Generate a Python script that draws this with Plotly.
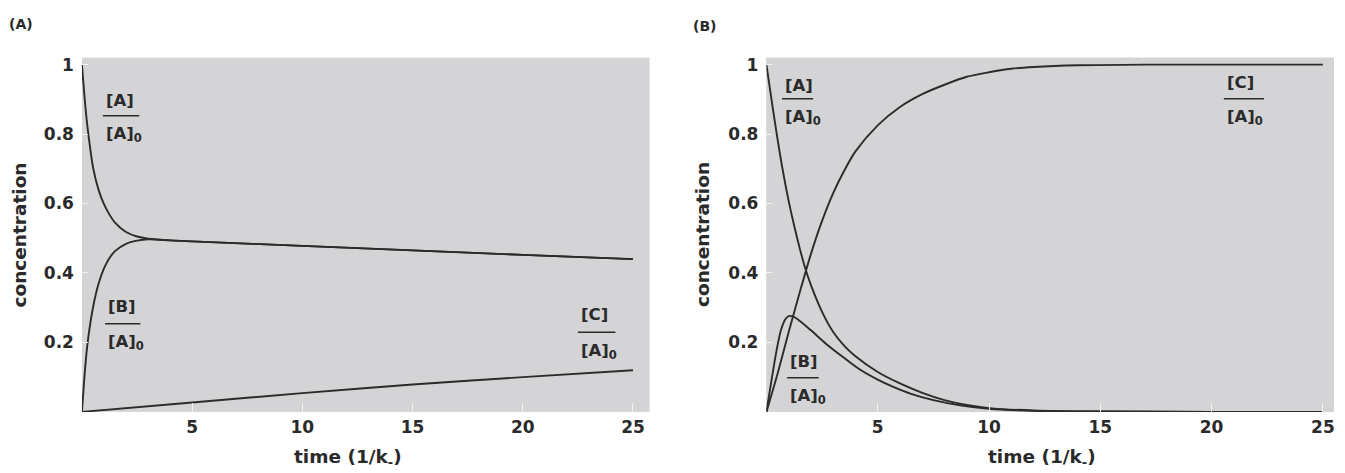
import plotly.graph_objects as go

# ---------------- data ----------------
# Panel (A): A <-> B fast equilibrium, B -> C slow
tA_A = [0, 0.1, 0.2, 0.3, 0.5, 0.75, 1.0, 1.25, 1.5, 2.0, 2.5, 3.0, 4, 5, 10, 15, 20, 25]
A_A = [1.0, 0.92, 0.85, 0.795, 0.705, 0.64, 0.598, 0.568, 0.545, 0.518, 0.505, 0.499, 0.494, 0.491, 0.478, 0.465, 0.452, 0.44]
tA_B = [0, 0.1, 0.2, 0.3, 0.5, 0.75, 1.0, 1.25, 1.5, 2.0, 2.5, 3.0, 4, 5, 10, 15, 20, 25]
A_B = [0.0, 0.09, 0.165, 0.22, 0.30, 0.368, 0.413, 0.443, 0.463, 0.484, 0.493, 0.497, 0.494, 0.491, 0.478, 0.465, 0.452, 0.44]
tA_C = [0, 5, 10, 15, 20, 25]
A_C = [0.0, 0.027, 0.054, 0.079, 0.10, 0.12]

# Panel (B): A -> B -> C
tB_A = [0, 0.25, 0.5, 0.75, 1.0, 1.25, 1.5, 1.75, 2.0, 2.5, 3.0, 3.5, 4.0, 5.0, 6.0, 7.0, 8.0, 9.0, 10, 12, 15, 20, 25]
B_A = [1.0, 0.89, 0.785, 0.69, 0.607, 0.535, 0.47, 0.412, 0.365, 0.288, 0.23, 0.19, 0.16, 0.115, 0.082, 0.055, 0.034, 0.02, 0.011, 0.004, 0.001, 0.0, 0.0]
tB_B = [0, 0.2, 0.45, 0.65, 0.85, 1.0, 1.2, 1.5, 2.0, 2.7, 3.5, 4.2, 5.0, 5.7, 6.5, 7.5, 8.7, 10, 12, 15, 20, 25]
B_B = [0.0, 0.08, 0.175, 0.235, 0.267, 0.276, 0.274, 0.262, 0.235, 0.195, 0.155, 0.122, 0.093, 0.072, 0.052, 0.034, 0.019, 0.009, 0.003, 0.001, 0.0, 0.0]
tB_C = [0, 0.5, 1.0, 1.5, 2.0, 2.5, 3.0, 3.5, 4.0, 5.0, 6.0, 7.0, 8.0, 9.0, 10, 11, 12, 14, 17, 25]
B_C = [0.0, 0.11, 0.23, 0.345, 0.455, 0.55, 0.63, 0.695, 0.75, 0.825, 0.878, 0.915, 0.942, 0.965, 0.978, 0.988, 0.993, 0.998, 1.0, 1.0]

x_ticks = [5, 10, 15, 20, 25]
x_ticktext = ["5", "10", "15", "20", "25"]
y_ticks = [0.2, 0.4, 0.6, 0.8, 1.0]
y_ticktext = ["0.2", "0.4", "0.6", "0.8", "1"]

panel_labels = ["(A)", "(B)"]
y_title = "concentration"
x_title = "time (1/k<sub>-</sub>)"

# ---------------- styling ----------------
LINE = "#2b2b2b"
BG = "#d4d4d7"
TXT = "#2a2a2a"
FONT = "DejaVu Sans"
W, H = 1345, 473

fig = go.Figure()

def add_line(x, y, xa, ya):
    fig.add_trace(go.Scatter(x=x, y=y, mode="lines", xaxis=xa, yaxis=ya,
                             line=dict(color=LINE, width=1.9, shape="spline", smoothing=0.8),
                             showlegend=False, hoverinfo="skip"))

add_line(tA_A, A_A, "x", "y")
add_line(tA_B, A_B, "x", "y")
add_line(tA_C, A_C, "x", "y")
add_line(tB_A, B_A, "x2", "y2")
add_line(tB_B, B_B, "x2", "y2")
add_line(tB_C, B_C, "x2", "y2")

ydom = [1 - 411.5 / H, 1 - 55 / H]
tickfont = dict(family=FONT, size=17, color=TXT, weight="bold")

common_x = dict(tickvals=x_ticks, ticktext=x_ticktext, tickfont=tickfont,
                showgrid=False, zeroline=False, showline=False,
                ticks="inside", ticklen=9, tickwidth=1, tickcolor="#f2f2f2",
                ticklabelstandoff=3)
common_y = dict(tickvals=y_ticks, ticktext=y_ticktext, tickfont=tickfont,
                showgrid=False, zeroline=False, showline=False,
                ticks="inside", ticklen=6, tickwidth=1, tickcolor="#f2f2f2",
                range=[0, 1.02], domain=ydom, ticklabelstandoff=7)

fig.update_layout(
    width=W, height=H, margin=dict(l=0, r=0, t=0, b=0),
    paper_bgcolor="white", plot_bgcolor=BG,
    xaxis=dict(domain=[82 / W, 650 / W], range=[0, 25.75], anchor="y", **common_x),
    yaxis=dict(anchor="x", **common_y),
    xaxis2=dict(domain=[767 / W, 1335 / W], range=[0, 25.5], anchor="y2", **common_x),
    yaxis2=dict(anchor="x2", **common_y),
)
fig.add_shape(type="rect", xref="x2 domain", yref="y2 domain", x0=0, x1=1, y0=0, y1=1,
              fillcolor=BG, line_width=0, layer="below")

lblfont = dict(family=FONT, size=16.5, color=TXT, weight="bold")

def frac(num, xa, ya, x_left, y_num, bar_x1, y_bar, y_den):
    fig.add_annotation(text=num, x=x_left, y=y_num, xref=xa, yref=ya, showarrow=False,
                       xanchor="left", yanchor="middle", font=lblfont)
    fig.add_annotation(text="[A]<sub>0</sub>", x=x_left, y=y_den, xref=xa, yref=ya, showarrow=False,
                       xanchor="left", yanchor="top", font=lblfont)
    fig.add_shape(type="line", xref=xa, yref=ya, x0=x_left - 0.05, x1=bar_x1, y0=y_bar, y1=y_bar,
                  line=dict(color=TXT, width=1.5))

# panel A labels (y_den = top of denominator box)
frac("[A]", "x", "y", 1.0, 0.898, 2.6, 0.853, 0.835)
frac("[B]", "x", "y", 1.1, 0.303, 2.65, 0.254, 0.236)
frac("[C]", "x", "y", 22.55, 0.280, 24.2, 0.229, 0.211)
# panel B labels
frac("[A]", "x2", "y2", 0.75, 0.940, 2.1, 0.902, 0.884)
frac("[B]", "x2", "y2", 0.98, 0.144, 2.35, 0.098, 0.080)
frac("[C]", "x2", "y2", 20.6, 0.948, 22.35, 0.902, 0.884)

ttl = dict(family=FONT, size=18.5, color=TXT, weight="bold")
for cx, cy, txt, rot in [(20, 233, y_title, -90), (703, 233, y_title, -90),
                          (348, 458, x_title, 0), (1043, 458, x_title, 0)]:
    fig.add_annotation(text=txt, x=cx / W, y=1 - cy / H, xref="paper", yref="paper",
                       showarrow=False, textangle=rot, xanchor="center", yanchor="middle", font=ttl)
for cx, cy, txt in [(21, 21, panel_labels[0]), (705, 23, panel_labels[1])]:
    fig.add_annotation(text=txt, x=cx / W, y=1 - cy / H, xref="paper", yref="paper",
                       showarrow=False, xanchor="center", yanchor="middle",
                       font=dict(family=FONT, size=14, color=TXT, weight="bold"))

fig.write_html("out.html", config={"displayModeBar": False},
               post_script="document.body.style.margin='0';document.body.style.padding='0';")
